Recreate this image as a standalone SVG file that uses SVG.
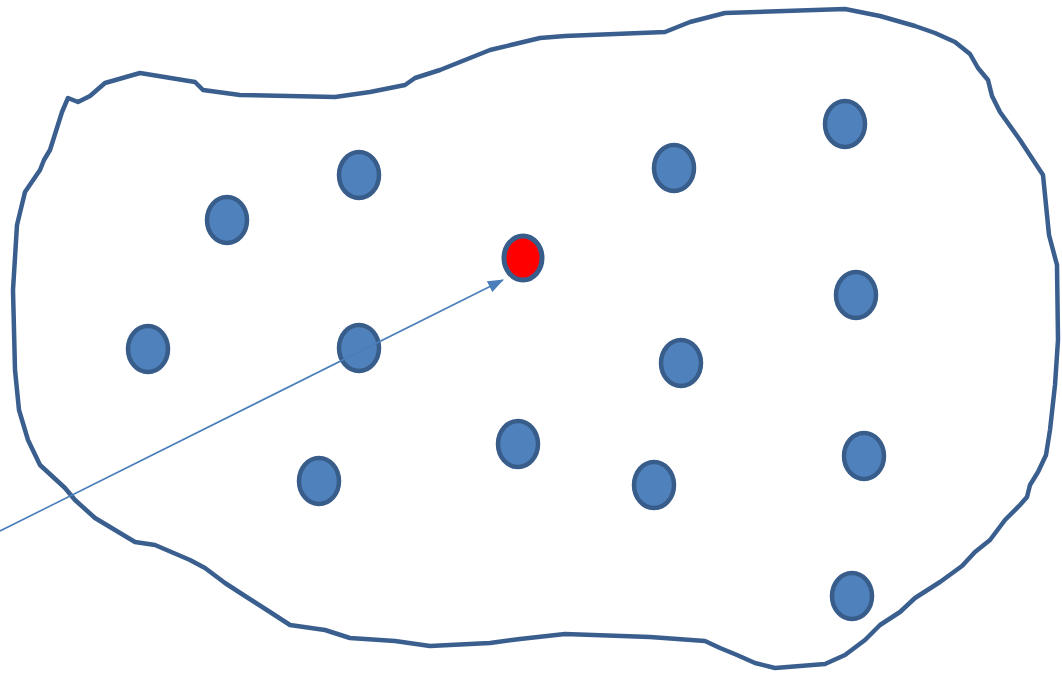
<svg xmlns="http://www.w3.org/2000/svg" width="1062" height="675" viewBox="0 0 1062 675">
<style>
.blob{fill:none;stroke:#3a5f8e;stroke-width:4.5;stroke-linejoin:round;stroke-linecap:round}
.n{fill:#4f81bd;stroke:#385d8a;stroke-width:4.5}
.r{fill:#ff0000;stroke:#385d8a;stroke-width:5}
.c{stroke:#4a7ebb;stroke-width:1.6;fill:none}
</style>
<defs>
<marker id="ah" viewBox="0 0 16 12" refX="15" refY="6" markerWidth="16" markerHeight="12" markerUnits="userSpaceOnUse" orient="auto">
<path d="M0,0 L16,6 L0,12 Z" fill="#4a7ebb"/>
</marker>
</defs>
<g id="region">
<path class="blob" d="M68,98 L78,102 L90,96 L105,83 L140,73 L195,82 L203,90 L240,95 L335,97 L370,92 L405,85 L415,78 L440,70 L465,60 L490,50 L515,44 L540,38 L565,36 L665,32 L690,22 L725,13 L845,9 L880,16 L915,26 L935,33 L955,42 L970,54 L978,68 L988,80 L992,96 L1000,112 L1020,140 L1043,175 L1049,235 L1057,265 L1058,340 L1055,385 L1050,430 L1046,455 L1038,472 L1030,485 L1027,497 L1020,505 L1005,520 L990,540 L975,552 L962,566 L940,582 L915,598 L900,612 L880,625 L865,640 L845,655 L825,664 L775,668 L755,663 L737,655 L720,648 L705,641 L650,637 L565,634 L520,639 L490,643 L430,646 L395,641 L350,638 L325,630 L290,625 L270,612 L245,596 L225,583 L205,568 L190,560 L155,545 L135,542 L120,533 L95,518 L75,500 L65,488 L40,465 L28,440 L19,410 L15,370 L13,290 L17,225 L25,192 L40,170 L44,160 L50,150 L62,112 Z"/>
</g>
<g id="nodes">
<ellipse id="n1" class="n" cx="227" cy="220" rx="20" ry="23"/>
<ellipse id="n2" class="n" cx="359" cy="175" rx="20" ry="23"/>
<ellipse id="n3" class="n" cx="148" cy="349" rx="20" ry="23"/>
<ellipse id="n4" class="n" cx="359" cy="348" rx="20" ry="23"/>
<ellipse id="n5" class="n" cx="319" cy="481" rx="20" ry="23"/>
<ellipse id="n6" class="n" cx="518" cy="444" rx="20" ry="23"/>
<ellipse id="n7" class="r" cx="523" cy="258" rx="19" ry="22"/>
<ellipse id="n8" class="n" cx="674" cy="168" rx="20" ry="23"/>
<ellipse id="n9" class="n" cx="845" cy="124" rx="20" ry="23"/>
<ellipse id="n10" class="n" cx="856" cy="295" rx="20" ry="23"/>
<ellipse id="n11" class="n" cx="681" cy="363" rx="20" ry="23"/>
<ellipse id="n12" class="n" cx="654" cy="485" rx="20" ry="23"/>
<ellipse id="n13" class="n" cx="864" cy="456" rx="20" ry="23"/>
<ellipse id="n14" class="n" cx="852" cy="596" rx="20" ry="23"/>
</g>
<g id="connectors">
<line class="c" x1="0" y1="531" x2="503" y2="280" marker-end="url(#ah)"/>
</g>
</svg>
